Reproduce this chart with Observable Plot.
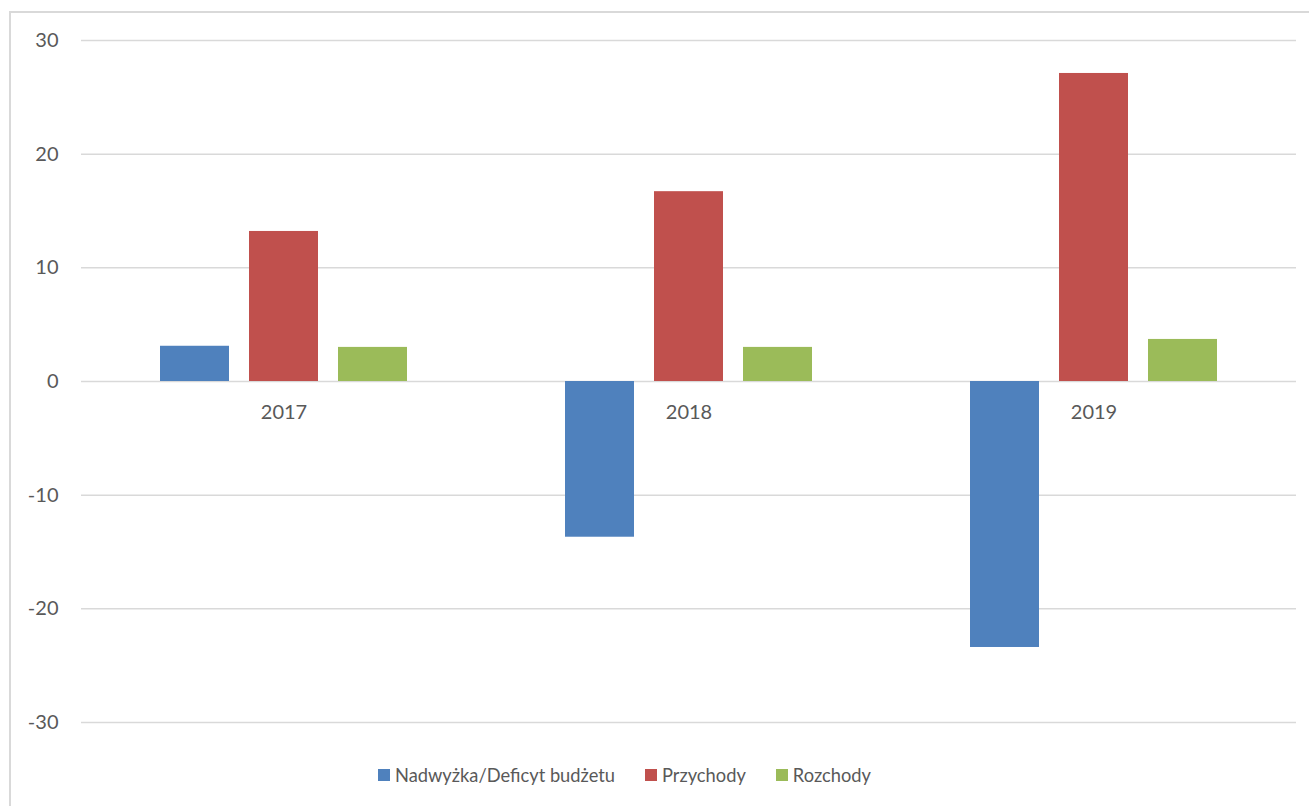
<!DOCTYPE html>
<html>
<head>
<meta charset="utf-8">
<script src="https://cdn.jsdelivr.net/npm/d3@7"></script>
<script src="https://cdn.jsdelivr.net/npm/@observablehq/plot@0.6"></script>
<style>
  html, body { margin: 0; padding: 0; background: #fff; overflow: hidden; }
  #wrap { position: relative; width: 1309px; height: 806px; overflow: hidden; font-family: Lato, "Open Sans", sans-serif; }
  #frame { position: absolute; left: 9px; top: 11px; width: 1400px; height: 900px; border: 2px solid #d9d9d9; box-sizing: border-box; }
  #chart { position: absolute; left: 0; top: 0; }
  #legend { position: absolute; left: 378px; top: 764px; display: flex; font-size: 18.3px; color: #595959; white-space: nowrap; }
  .item { display: flex; align-items: center; margin-right: 30px; }
  .sw { width: 12px; height: 12px; margin-right: 5px; display: inline-block; }
</style>
</head>
<body>
<div id="wrap">
  <div id="frame"></div>
  <div id="chart"></div>
  <div id="legend"></div>
</div>
<script>
const years = ["2017", "2018", "2019"];
const series = ["Nadwyżka/Deficyt budżetu", "Przychody", "Rozchody"];
const colors = ["#4f81bd", "#c0504d", "#9bbb59"];
const deficyt = [3.1, -13.7, -23.4];
const przychody = [13.2, 16.7, 27.1];
const rozchody = [3.0, 3.0, 3.7];
const yTicks = [-30, -20, -10, 0, 10, 20, 30];

const valuesBySeries = [deficyt, przychody, rozchody];
const data = [];
years.forEach((yr, i) => {
  series.forEach((s, j) => data.push({year: yr, series: s, value: valuesBySeries[j][i]}));
});

const chart = Plot.plot({
  width: 1309,
  height: 806,
  marginLeft: 81,
  marginRight: 13,
  marginTop: 40,
  marginBottom: 84,
  style: {fontFamily: "Lato, 'Open Sans', sans-serif", fontSize: "20px", color: "#595959", background: "transparent"},
  fx: {domain: years, padding: 0, axis: null},
  x: {domain: series, paddingInner: 0.222, paddingOuter: 0.867, axis: null},
  y: {domain: [-30, 30], axis: null},
  color: {domain: series, range: colors},
  marks: [
    Plot.gridY(yTicks, {stroke: "#d9d9d9", strokeOpacity: 1, strokeWidth: 1.5}),
    Plot.axisY(yTicks, {tickSize: 0, tickPadding: 23, tickFormat: d => String(d), fill: "#595959", fontSize: 20, label: null}),
    Plot.barY(data, {fx: "year", x: "series", y: "value", fill: "series"}),
    Plot.text(years, {fx: d => d, y: () => 0, text: d => d, dy: 31, fill: "#595959", fontSize: 20})
  ]
});
document.getElementById("chart").appendChild(chart);

const legend = document.getElementById("legend");
series.forEach((s, i) => {
  const item = document.createElement("div");
  item.className = "item";
  const sw = document.createElement("span");
  sw.className = "sw";
  sw.style.background = colors[i];
  const t = document.createElement("span");
  t.textContent = s;
  item.appendChild(sw);
  item.appendChild(t);
  legend.appendChild(item);
});
</script>
</body>
</html>
